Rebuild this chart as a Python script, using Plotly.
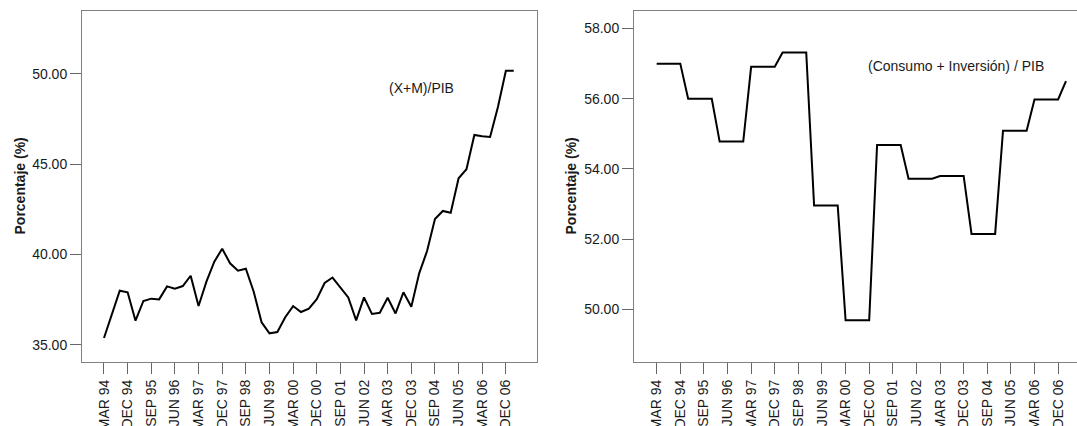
import plotly.graph_objects as go

# Quarterly periods, March 1994 to March 2007
months = ["MAR", "JUN", "SEP", "DEC"]
years = ["94", "95", "96", "97", "98", "99", "00", "01", "02", "03", "04", "05", "06", "07"]
quarters = [f"{m} {y}" for y in years for m in months][:53]

# Labelled ticks along the time axis
tick_labels = ["MAR 94", "DEC 94", "SEP 95", "JUN 96", "MAR 97", "DEC 97",
               "SEP 98", "JUN 99", "MAR 00", "DEC 00", "SEP 01", "JUN 02",
               "MAR 03", "DEC 03", "SEP 04", "JUN 05", "MAR 06", "DEC 06"]

# Openness: (exports + imports) / GDP, %
apertura = [35.37, 36.62, 37.99, 37.90, 36.33, 37.42, 37.55, 37.51, 38.23, 38.10,
            38.25, 38.82, 37.14, 38.49, 39.60, 40.32, 39.51, 39.10, 39.21, 37.93,
            36.24, 35.63, 35.70, 36.52, 37.14, 36.81, 36.99, 37.52, 38.42, 38.72,
            38.18, 37.62, 36.35, 37.62, 36.70, 36.77, 37.60, 36.73, 37.90, 37.10,
            38.95, 40.19, 41.96, 42.41, 42.31, 44.22, 44.72, 46.62, 46.55, 46.51,
            48.19, 50.18, 50.18]

# Domestic absorption: (consumption + investment) / GDP, %
absorcion = [57.00, 57.00, 57.00, 57.00, 56.00, 56.00, 56.00, 56.00, 54.78, 54.78,
             54.78, 54.78, 56.91, 56.91, 56.91, 56.91, 57.32, 57.32, 57.32, 57.32,
             52.96, 52.96, 52.96, 52.96, 49.69, 49.69, 49.69, 49.69, 54.68, 54.68,
             54.68, 54.68, 53.72, 53.72, 53.72, 53.72, 53.80, 53.80, 53.80, 53.80,
             52.15, 52.15, 52.15, 52.15, 55.09, 55.09, 55.09, 55.09, 55.98, 55.98,
             55.98, 55.98, 56.50]

left_ticks = [35, 40, 45, 50]
right_ticks = [50, 52, 54, 56, 58]

W, H = 1077, 426
FONT = "Liberation Sans, Arial, sans-serif"
FRAME = "#808080"
TICK = "#666666"
TXT = "#1a1a1a"

fig = go.Figure()
fig.add_trace(go.Scatter(x=quarters, y=apertura, mode="lines",
                         line=dict(color="black", width=2),
                         xaxis="x", yaxis="y", showlegend=False))
fig.add_trace(go.Scatter(x=quarters, y=absorcion, mode="lines",
                         line=dict(color="black", width=2),
                         xaxis="x2", yaxis="y2", showlegend=False))

xcommon = dict(type="category", categoryorder="array", categoryarray=quarters,
               tickvals=tick_labels, ticktext=tick_labels, tickangle=-90,
               ticks="outside", ticklen=11, tickcolor=TICK, tickwidth=1,
               showline=True, linecolor=FRAME, linewidth=1,
               showgrid=False, zeroline=False,
               tickfont=dict(family=FONT, size=14, color=TXT), automargin=False)
ycommon = dict(ticks="outside", ticklen=11, tickcolor=TICK, tickwidth=1,
               showline=True, linecolor=FRAME, linewidth=1,
               showgrid=False, zeroline=False, tickformat=".2f",
               tickfont=dict(family=FONT, size=14, color=TXT), automargin=False)

fig.update_layout(
    width=W, height=H,
    margin=dict(l=0, r=0, t=11, b=64),
    paper_bgcolor="white", plot_bgcolor="white",
    xaxis=dict(xcommon, domain=[82 / W, 537 / W], range=[-2.79, 54.95],
               anchor="y", mirror=True),
    yaxis=dict(ycommon, domain=[0, 1], range=[34.04, 53.49], tickvals=left_ticks,
               anchor="x", mirror=True),
    xaxis2=dict(xcommon, domain=[634 / W, 1.0], range=[-2.88, 53.4],
                anchor="y2", mirror=True),
    yaxis2=dict(ycommon, domain=[0, 1], range=[48.5, 58.5], tickvals=right_ticks,
                anchor="x2", mirror=False),
    annotations=[
        dict(text="<b>Porcentaje (%)</b>", textangle=-90, xref="paper", yref="paper",
             x=19 / W, y=0.5, showarrow=False, xanchor="center", yanchor="middle",
             font=dict(family=FONT, size=14, color=TXT)),
        dict(text="<b>Porcentaje (%)</b>", textangle=-90, xref="paper", yref="paper",
             x=570 / W, y=0.5, showarrow=False, xanchor="center", yanchor="middle",
             font=dict(family=FONT, size=14, color=TXT)),
        dict(text="(X+M)/PIB", xref="paper", yref="paper",
             x=421 / W, y=(362 - 88) / 351, showarrow=False,
             xanchor="center", yanchor="middle",
             font=dict(family=FONT, size=14, color=TXT)),
        dict(text="(Consumo + Inversión) / PIB", xref="paper", yref="paper",
             x=956 / W, y=(362 - 66) / 351, showarrow=False,
             xanchor="center", yanchor="middle",
             font=dict(family=FONT, size=14, color=TXT)),
    ],
)

fig.write_html("out.html")
